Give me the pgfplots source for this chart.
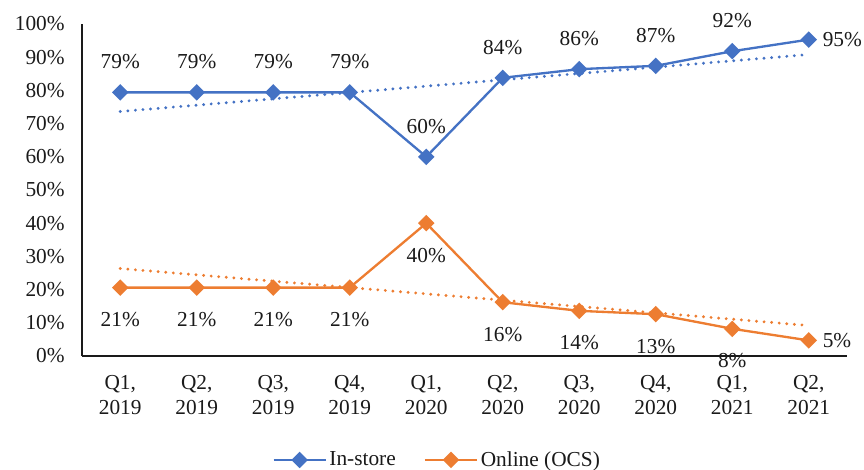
\documentclass[border=0pt]{standalone}
\usepackage{pgfplots}
\usepackage{pgfplotstable}
\pgfplotsset{compat=1.18}
\usepackage{fontspec}
\setmainfont{Liberation Serif}

\definecolor{instore}{HTML}{4472C4}
\definecolor{online}{HTML}{ED7D31}
\definecolor{ink}{HTML}{1A1A1A}

% Share of sales by channel, per quarter (in %)
\pgfplotstableread{
idx instore online
0   79.4    20.6
1   79.4    20.6
2   79.4    20.6
3   79.4    20.6
4   60.0    40.0
5   83.8    16.2
6   86.4    13.6
7   87.4    12.6
8   91.8     8.2
9   95.3     4.7
}\shares

\newcommand{\lblfont}{\fontsize{16}{19}\selectfont}

\begin{document}
\begin{tikzpicture}
\useasboundingbox (-61.5pt,-84.75pt) rectangle (586.5pt,267pt);
\begin{axis}[
  at={(0,0)}, anchor=south west,
  scale only axis, width=573.75pt, height=249pt,
  xmin=-0.5, xmax=9.5, ymin=0, ymax=100,
  axis x line*=bottom, axis y line*=left,
  axis line style={ink, line width=1.1pt},
  xtick={0,...,9},
  xticklabels={{Q1,\\2019},{Q2,\\2019},{Q3,\\2019},{Q4,\\2019},{Q1,\\2020},
               {Q2,\\2020},{Q3,\\2020},{Q4,\\2020},{Q1,\\2021},{Q2,\\2021}},
  ytick={0,10,...,100},
  yticklabel={\pgfmathprintnumber{\tick}\%},
  /pgf/number format/assume math mode=true,
  major tick length=0pt,
  tick label style={font=\lblfont, text=ink},
  xticklabel style={align=center, yshift=-11pt},
  yticklabel style={xshift=-9.5pt},
  legend style={draw=none, at={(0.4647,-0.313)}, anchor=center,
                legend columns=2, font=\lblfont, text=ink,
                /tikz/every even column/.append style={column sep=19pt}},
  legend image code/.code={\draw[mark repeat=2, mark phase=2]
      plot coordinates {(0pt,0pt) (19.5pt,0pt) (39pt,0pt)};},
  trend/.style={line width=2.4pt, dash pattern=on 0pt off 5.7pt, line cap=round, mark=none},
  series/.style={line width=1.75pt, mark=square*, mark size=3.5pt,
                 mark options={solid, rotate=45}},
  lbl/.style={draw=none, mark=none, forget plot,
              nodes near coords={\pgfmathprintnumber[fixed, precision=0]{\pgfplotspointmeta}\%},
              every node near coord/.append style={font=\lblfont, text=ink, anchor=center}},
]
\addplot[instore, series] table[x=idx, y=instore]{\shares};
\addlegendentry{In-store}
\addplot[online, series] table[x=idx, y=online]{\shares};
\addlegendentry{Online (OCS)}

% linear trendlines
\addplot[instore, trend, forget plot]
  table[x=idx, y={create col/linear regression={y=instore}}]{\shares};
\addplot[online, trend, forget plot]
  table[x=idx, y={create col/linear regression={y=online}}]{\shares};

% data labels
\addplot[lbl, restrict x to domain=0:8,
  every node near coord/.append style={yshift=23pt}]
  table[x=idx, y=instore]{\shares};
\addplot[lbl, restrict x to domain=9:9,
  every node near coord/.append style={anchor=west, xshift=7pt}]
  table[x=idx, y=instore]{\shares};
\addplot[lbl, restrict x to domain=0:8,
  every node near coord/.append style={yshift=-24pt}]
  table[x=idx, y=online]{\shares};
\addplot[lbl, restrict x to domain=9:9,
  every node near coord/.append style={anchor=west, xshift=7pt}]
  table[x=idx, y=online]{\shares};
\end{axis}
\end{tikzpicture}
\end{document}
